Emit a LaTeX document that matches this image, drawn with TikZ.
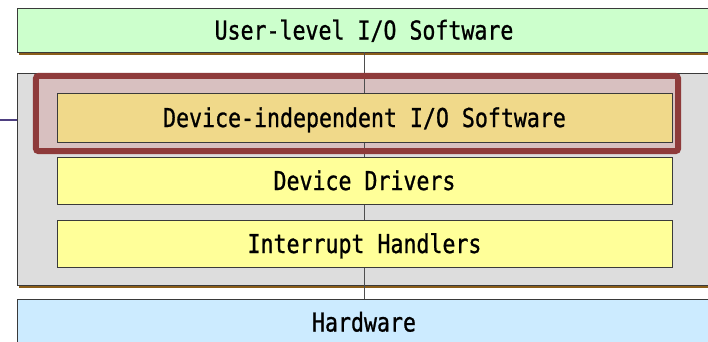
\documentclass[tikz,border=0pt]{standalone}
\usepackage{fontspec}
\newfontfamily\layerfont[FakeStretch=0.83,FakeBold=0.9]{DejaVu Sans Mono}
\definecolor{usergreen}{HTML}{CCFFCC}
\definecolor{kernelgray}{HTML}{DDDDDD}
\definecolor{hlred}{HTML}{8E3A3A}
\definecolor{hlpink}{HTML}{D8C0C0}
\definecolor{indepgold}{HTML}{F0D98A}
\definecolor{layeryellow}{HTML}{FFFF99}
\definecolor{hwblue}{HTML}{CCEBFF}
\definecolor{shadowbrown}{HTML}{8B5E1A}
\definecolor{edgegray}{HTML}{3A3A3A}
\definecolor{linkpurple}{HTML}{4E3F80}
\tikzset{
  layer/.style={draw=edgegray, line width=0.8pt, inner sep=0pt,
    text height=19pt, text depth=0pt,
    font=\layerfont\fontsize{26}{28}\selectfont},
  outer/.style={layer, minimum width=694pt},
  inner/.style={layer, fill=layeryellow, minimum width=615pt, minimum height=47pt},
  shadowed/.style={preaction={fill=shadowbrown, draw=none, transform canvas={shift={(2pt,-3pt)}}}}
}
\begin{document}
\begin{tikzpicture}[x=1pt,y=-1pt]
  \useasboundingbox (0,0) rectangle (708,341);
  \clip (0,0) rectangle (708,341);
  \fill[white] (0,0) rectangle (708,341);

  % top and bottom layers
  \node[outer, shadowed, fill=usergreen, minimum height=44pt] (user) at (364,30) {User-level I/O Software};
  \node[outer, fill=hwblue, minimum height=46pt] (hw) at (364,322) {Hardware};

  % kernel region
  \node[outer, shadowed, fill=kernelgray, minimum height=212pt] (kernel) at (364,179) {};

  % highlight frame around the device-independent layer
  \node[fill=hlpink, minimum width=642pt, minimum height=75pt, inner sep=0pt] (hl) at (357,113.5) {};
  \draw[edgegray!90, line width=1pt] (user.south) -- (hw.north);
  \draw[hlred, line width=6pt, rounded corners=3pt] (hl.north west) rectangle (hl.south east);

  % kernel layers
  \node[inner, fill=indepgold, minimum height=49pt] (indep) at (364.5,117.5) {Device-independent I/O Software};
  \node[inner] (drivers) at (364.5,180.5) {Device Drivers};
  \node[inner] (irq) at (364.5,243.5) {Interrupt Handlers};

  % link entering from the left
  \coordinate (lft) at (0,120);
  \draw[linkpurple, line width=1.3pt] (lft) -- (lft -| kernel.west);
\end{tikzpicture}
\end{document}
